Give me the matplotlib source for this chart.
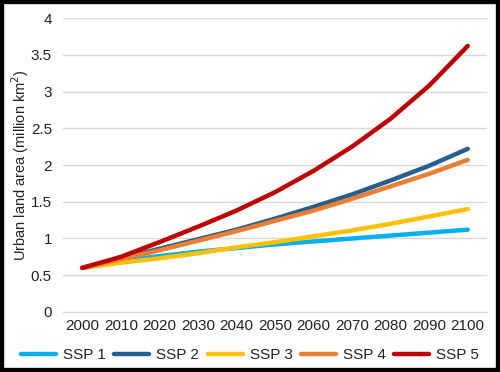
import matplotlib.pyplot as plt
from matplotlib.patches import Rectangle

plt.rcParams['font.family'] = ['Liberation Sans', 'DejaVu Sans']

# Data
years = ["2000", "2010", "2020", "2030", "2040", "2050", "2060", "2070", "2080", "2090", "2100"]
ssp1 = [0.60, 0.70, 0.76, 0.82, 0.87, 0.92, 0.96, 1.00, 1.04, 1.08, 1.12]
ssp2 = [0.60, 0.73, 0.86, 0.99, 1.12, 1.27, 1.43, 1.60, 1.79, 1.99, 2.22]
ssp3 = [0.60, 0.67, 0.73, 0.80, 0.88, 0.95, 1.03, 1.11, 1.20, 1.30, 1.40]
ssp4 = [0.60, 0.72, 0.84, 0.97, 1.10, 1.24, 1.38, 1.54, 1.71, 1.88, 2.07]
ssp5 = [0.60, 0.75, 0.95, 1.16, 1.38, 1.63, 1.92, 2.25, 2.63, 3.08, 3.62]

series = [
    ("SSP 1", ssp1, "#00b0f0"),
    ("SSP 2", ssp2, "#255e91"),
    ("SSP 3", ssp3, "#ffc000"),
    ("SSP 4", ssp4, "#ed7d31"),
    ("SSP 5", ssp5, "#c00000"),
]

fig = plt.figure(figsize=(5, 3.72), dpi=100)
ax = fig.add_axes([0.126, 0.1613, 0.848, 0.7903])

x = range(len(years))
for name, vals, col in series:
    ax.plot(x, vals, color=col, linewidth=3.2, label=name, solid_capstyle="round")

ax.set_xlim(-0.5, len(years) - 0.5)
ax.set_ylim(0, 4)
ax.set_xticks(list(x))
ax.set_xticklabels(years)
ax.set_yticks([0, 0.5, 1, 1.5, 2, 2.5, 3, 3.5, 4])
ax.set_yticklabels(["0", "0.5", "1", "1.5", "2", "2.5", "3", "3.5", "4"])
ax.tick_params(axis="both", length=0, labelsize=11, colors="#222222")
ax.tick_params(axis="x", pad=5)
ax.tick_params(axis="y", pad=8)

ax.grid(axis="y", color="#d9d9d9", linewidth=1)
ax.set_axisbelow(True)
for s in ["top", "right", "left"]:
    ax.spines[s].set_visible(False)
ax.spines["bottom"].set_color("#d9d9d9")

ax.set_ylabel("Urban land area (million km$^2$)", fontsize=10.5, color="#222222")
ax.yaxis.set_label_coords(-0.075, 0.5)

leg = fig.legend(loc="center", bbox_to_anchor=(0.5, 0.045), ncol=5, frameon=False,
                 fontsize=11, handlelength=2.3, columnspacing=0.55, handletextpad=0.45)
for t in leg.get_texts():
    t.set_color("#222222")

# black frame round the figure
fig.patches.append(Rectangle((0, 0), 1, 1, transform=fig.transFigure,
                             fill=False, edgecolor="black", linewidth=6))

fig.savefig("out.png", dpi=100)
